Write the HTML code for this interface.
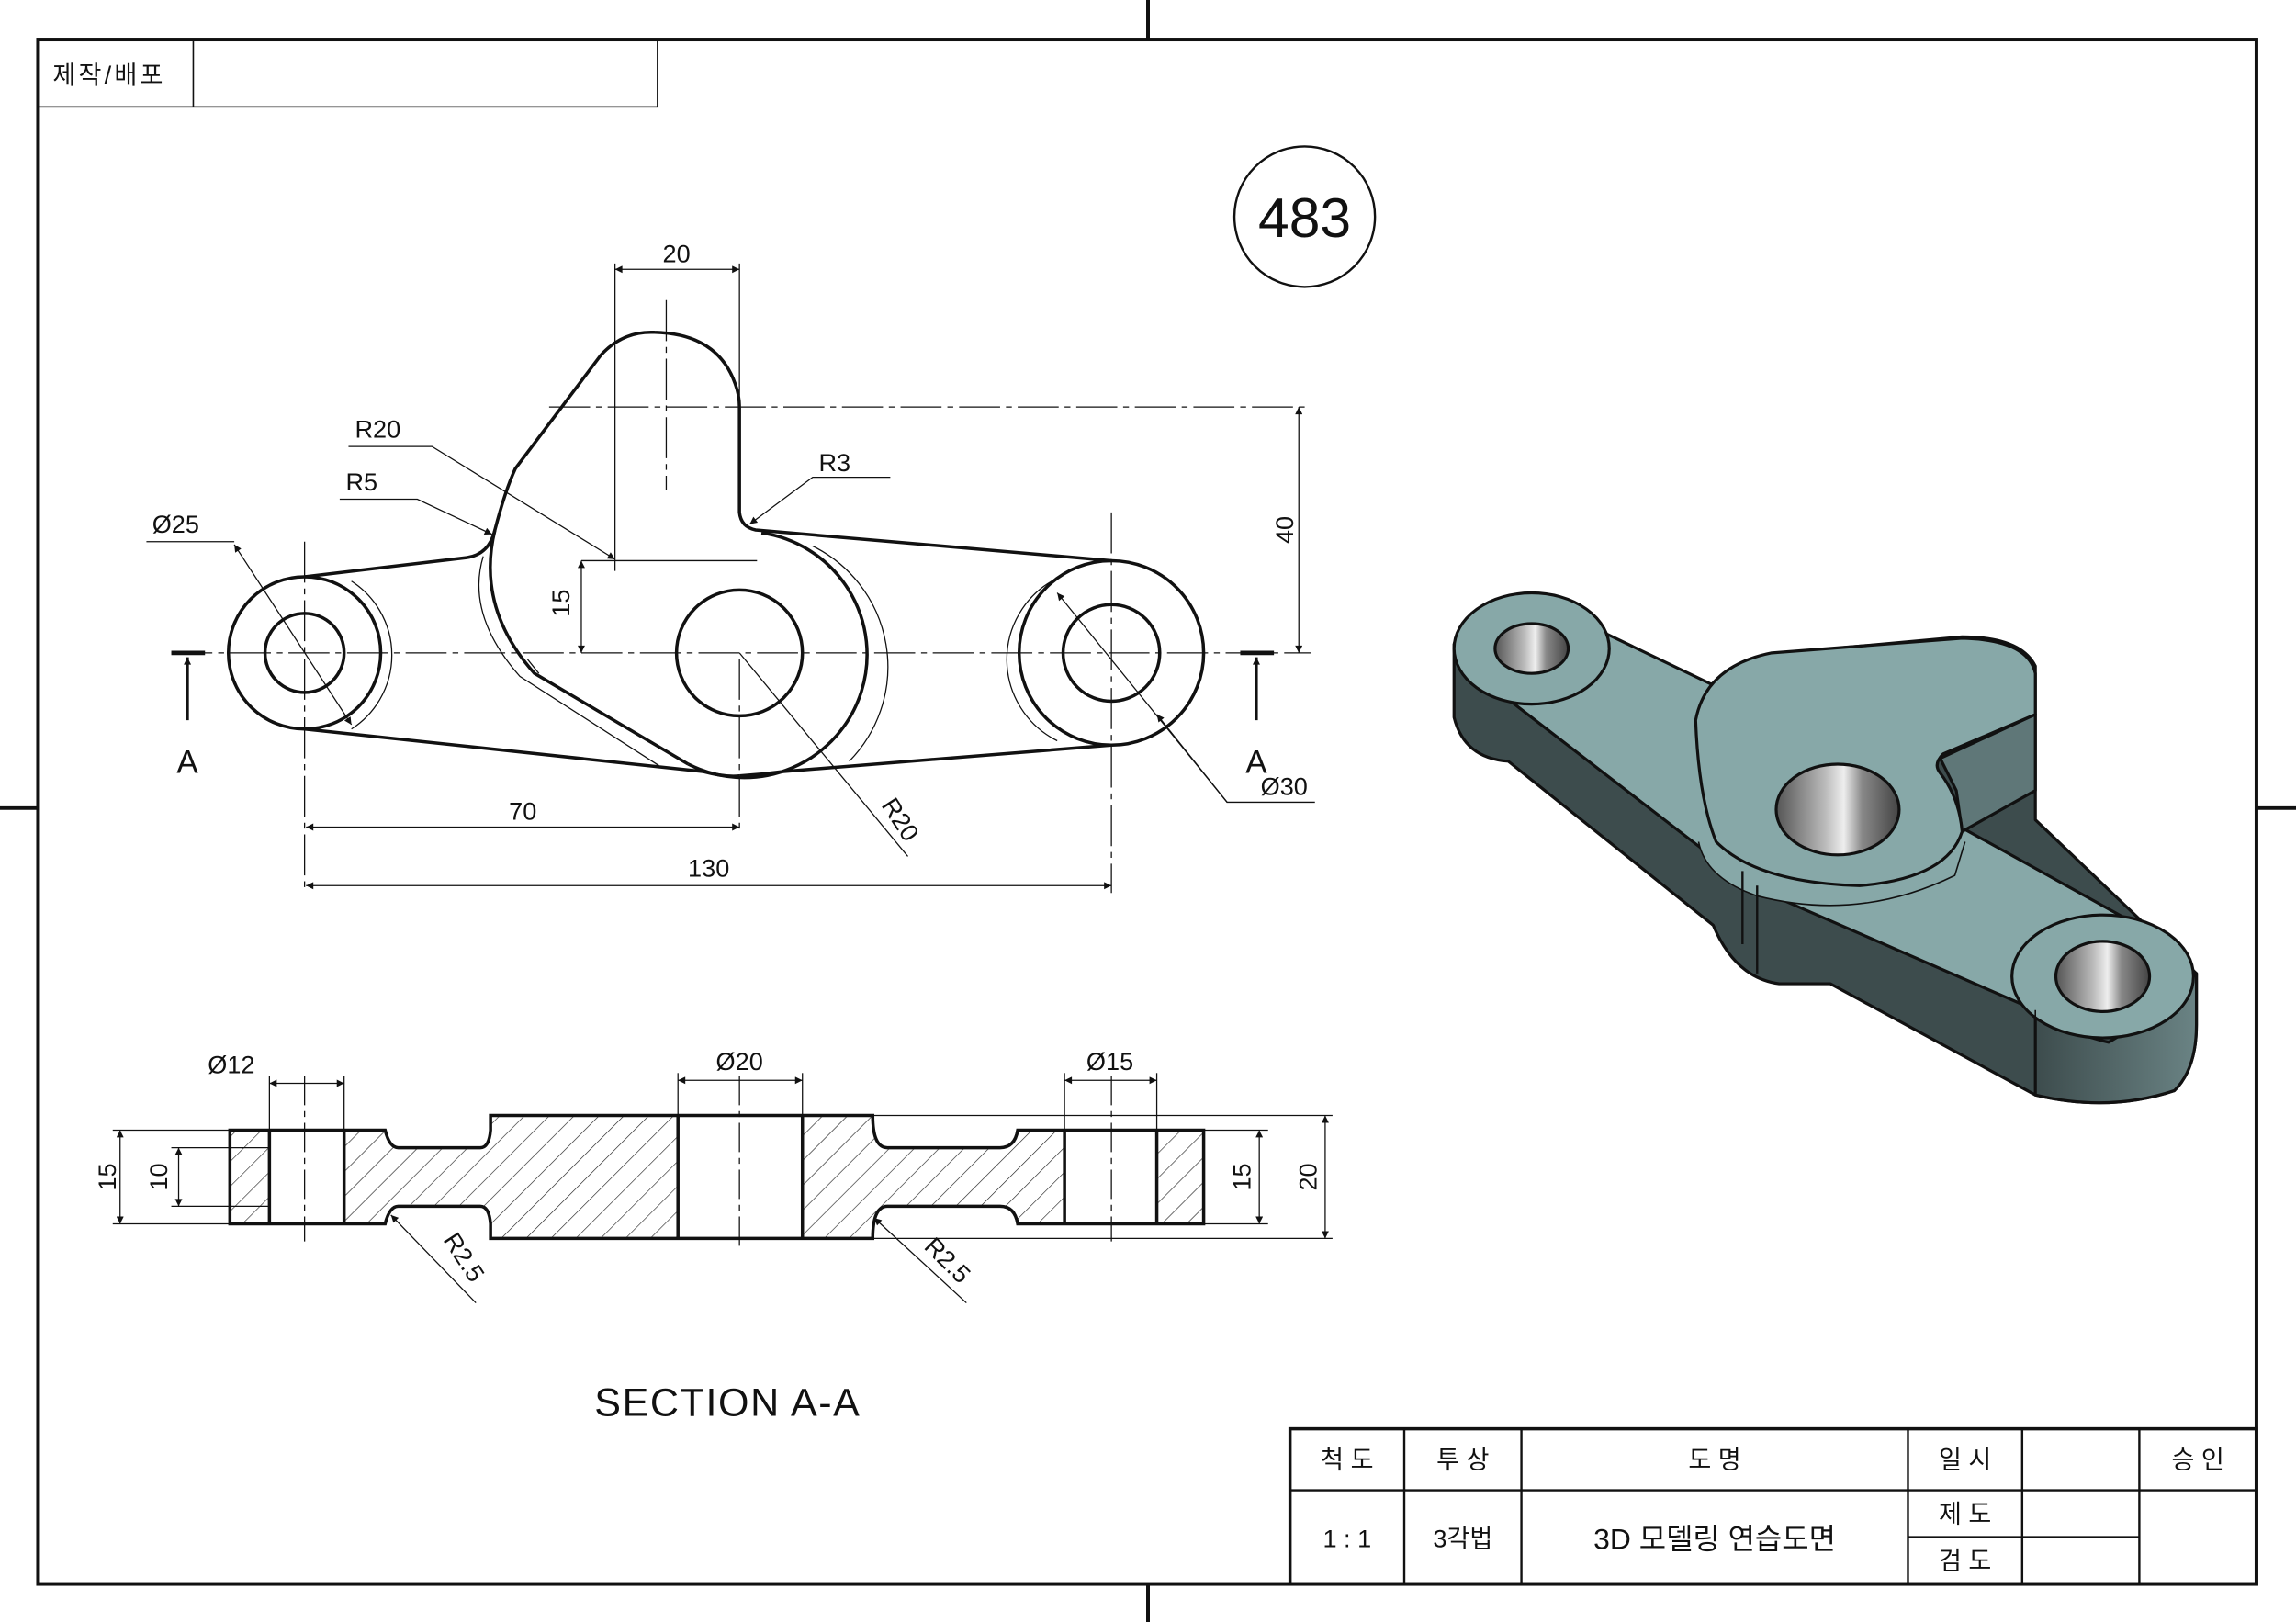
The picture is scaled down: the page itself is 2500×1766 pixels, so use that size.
<!DOCTYPE html>
<html><head><meta charset="utf-8"><style>
html,body{margin:0;padding:0;background:#fff}
svg{display:block}
text{font-family:"Liberation Sans","Noto Sans CJK KR",sans-serif;fill:#111}
</style></head><body>
<svg width="2500" height="1766" viewBox="0 0 1568 1108" preserveAspectRatio="none" xmlns="http://www.w3.org/2000/svg">
<defs>
<pattern id="h" width="12" height="12" patternUnits="userSpaceOnUse" patternTransform="rotate(45)"><line x1="0" y1="0" x2="0" y2="12" stroke="#222" stroke-width="0.8"/></pattern>
<marker id="ar" viewBox="0 0 10 10" refX="10" refY="5" markerWidth="9" markerHeight="5" orient="auto-start-reverse" markerUnits="userSpaceOnUse"><path d="M0,0 L10,5 L0,10z" fill="#111"/></marker>
<linearGradient id="hole" x1="0" x2="1"><stop offset="0" stop-color="#555"/><stop offset=".4" stop-color="#bbb"/><stop offset=".55" stop-color="#eee"/><stop offset=".7" stop-color="#888"/><stop offset="1" stop-color="#444"/></linearGradient>
<linearGradient id="bside" x1="0" x2="1"><stop offset="0" stop-color="#3d4c4d"/><stop offset="1" stop-color="#6a8384"/></linearGradient>
</defs>
<g fill="none" stroke="#111">
<rect x="26" y="27" width="1515" height="1055" stroke-width="2.5"/>
<line x1="784" y1="0" x2="784" y2="27" stroke-width="2.5"/>
<line x1="784" y1="1082" x2="784" y2="1108" stroke-width="2.5"/>
<line x1="0" y1="552" x2="26" y2="552" stroke-width="2.5"/>
<line x1="1541" y1="552" x2="1568" y2="552" stroke-width="2.5"/>
<rect x="26" y="27" width="423" height="46" stroke-width="1"/>
<line x1="132" y1="27" x2="132" y2="73" stroke-width="1"/>
<circle cx="891" cy="148" r="48" stroke-width="1.5"/>

<g stroke-width="2.2">
<circle cx="208" cy="446" r="52"/><circle cx="208" cy="446" r="27"/>
<circle cx="505" cy="446" r="43"/>
<circle cx="759" cy="446" r="63"/><circle cx="759" cy="446" r="33"/>
<path d="M208,394 L318,381 Q334,379 338,362 Q345,335 352,320 L410,243 Q425,226 447,227 Q490,228 502,262 Q505,270 505,278 L505,350 Q506,360 516,362 L759,383"/>
<path d="M520,364 A84,84 0 1 1 470,522"/>
<path d="M338,362 Q325,415 365,460 L470,522"/>
<path d="M208,498 L480,527 Q495,531 505,530"/>
<path d="M759,509 L535,527 Q520,529 505,530"/>
</g>
<g stroke-width="0.8">
<path d="M240,397 A60,60 0 0 1 240,498"/>
<path d="M720,396 A62,62 0 0 0 722,506"/>
<path d="M330,380 Q318,420 355,462 L450,523"/>
<path d="M555,373 A92,92 0 0 1 580,520"/>
<line x1="360" y1="450" x2="368" y2="460"/>
</g>
<g stroke-width="0.8" stroke-dasharray="28,4,4,4">
<line x1="117" y1="446" x2="895" y2="446"/>
<line x1="375" y1="278" x2="893" y2="278"/>
<line x1="455" y1="205" x2="455" y2="335"/>
<line x1="208" y1="370" x2="208" y2="610"/>
<line x1="759" y1="350" x2="759" y2="610"/>
<line x1="505" y1="450" x2="505" y2="570"/>
</g>
<g stroke-width="0.8">
<line x1="420" y1="180" x2="420" y2="390"/><line x1="505" y1="180" x2="505" y2="270"/>
<line x1="420" y1="184" x2="505" y2="184" marker-start="url(#ar)" marker-end="url(#ar)"/>
<line x1="397" y1="383" x2="517" y2="383"/>
<line x1="397" y1="383" x2="397" y2="446" marker-start="url(#ar)" marker-end="url(#ar)"/>
<line x1="887" y1="278" x2="887" y2="446" marker-start="url(#ar)" marker-end="url(#ar)"/>
<line x1="209" y1="565" x2="505" y2="565" marker-start="url(#ar)" marker-end="url(#ar)"/>
<line x1="209" y1="605" x2="759" y2="605" marker-start="url(#ar)" marker-end="url(#ar)"/>
<path d="M100,370 L160,370"/><line x1="160" y1="372" x2="240" y2="495" marker-start="url(#ar)" marker-end="url(#ar)"/>
<path d="M238,305 L295,305 L420,382" marker-end="url(#ar)"/>
<path d="M232,341 L285,341 L336,365" marker-end="url(#ar)"/>
<path d="M608,326 L555,326 L512,358" marker-end="url(#ar)"/>
<path d="M505,446 L620,585"/>
<path d="M898,548 L838,548 L722,405" marker-end="url(#ar)"/>
<line x1="838" y1="548" x2="790" y2="488" marker-end="url(#ar)"/>
</g>
<g stroke-width="2">
<line x1="117" y1="446" x2="140" y2="446" stroke-width="3"/>
<line x1="128" y1="492" x2="128" y2="449" marker-end="url(#ar)"/>
<line x1="847" y1="446" x2="870" y2="446" stroke-width="3"/>
<line x1="858" y1="492" x2="858" y2="449" marker-end="url(#ar)"/>
</g>

<path d="M157,772 L263,772 Q266,784 272,784 L328,784 Q334,784 335,772 L335,762 L463,762 L463,846 L335,846 L335,836 Q334,824 328,824 L272,824 Q266,824 263,836 L157,836 Z" fill="url(#h)" stroke="none"/>
<path d="M548,762 L596,762 Q596,784 606,784 L683,784 Q693,784 695,772 L822,772 L822,836 L695,836 Q693,824 683,824 L606,824 Q596,824 596,846 L548,846 Z" fill="url(#h)" stroke="none"/>
<rect x="184" y="772" width="51" height="64" fill="#fff" stroke="none"/>
<rect x="727" y="772" width="63" height="64" fill="#fff" stroke="none"/>
<g stroke-width="2.2">
<path d="M157,772 L263,772 Q266,784 272,784 L328,784 Q334,784 335,772 L335,762 L596,762 Q596,784 606,784 L683,784 Q693,784 695,772 L822,772 L822,836 L695,836 Q693,824 683,824 L606,824 Q596,824 596,846 L335,846 L335,836 Q334,824 328,824 L272,824 Q266,824 263,836 L157,836 Z"/>
<line x1="184" y1="772" x2="184" y2="836"/><line x1="235" y1="772" x2="235" y2="836"/>
<line x1="463" y1="762" x2="463" y2="846"/><line x1="548" y1="762" x2="548" y2="846"/>
<line x1="727" y1="772" x2="727" y2="836"/><line x1="790" y1="772" x2="790" y2="836"/>
</g>
<g stroke-width="0.8" stroke-dasharray="20,4,4,4">
<line x1="208" y1="735" x2="208" y2="848"/><line x1="505" y1="735" x2="505" y2="855"/><line x1="759" y1="735" x2="759" y2="848"/>
</g>
<g stroke-width="0.8">
<line x1="184" y1="735" x2="184" y2="772"/><line x1="235" y1="735" x2="235" y2="772"/>
<line x1="184" y1="740" x2="235" y2="740" marker-start="url(#ar)" marker-end="url(#ar)"/>
<line x1="463" y1="733" x2="463" y2="762"/><line x1="548" y1="733" x2="548" y2="762"/>
<line x1="463" y1="738" x2="548" y2="738" marker-start="url(#ar)" marker-end="url(#ar)"/>
<line x1="727" y1="733" x2="727" y2="772"/><line x1="790" y1="733" x2="790" y2="772"/>
<line x1="727" y1="738" x2="790" y2="738" marker-start="url(#ar)" marker-end="url(#ar)"/>
<line x1="77" y1="772" x2="157" y2="772"/><line x1="77" y1="836" x2="157" y2="836"/>
<line x1="82" y1="772" x2="82" y2="836" marker-start="url(#ar)" marker-end="url(#ar)"/>
<line x1="117" y1="784" x2="184" y2="784"/><line x1="117" y1="824" x2="184" y2="824"/>
<line x1="122" y1="784" x2="122" y2="824" marker-start="url(#ar)" marker-end="url(#ar)"/>
<line x1="822" y1="772" x2="866" y2="772"/><line x1="822" y1="836" x2="866" y2="836"/>
<line x1="860" y1="772" x2="860" y2="836" marker-start="url(#ar)" marker-end="url(#ar)"/>
<line x1="596" y1="762" x2="910" y2="762"/><line x1="596" y1="846" x2="910" y2="846"/>
<line x1="905" y1="762" x2="905" y2="846" marker-start="url(#ar)" marker-end="url(#ar)"/>
<line x1="325" y1="890" x2="267" y2="830" marker-end="url(#ar)"/>
<line x1="660" y1="890" x2="597" y2="832" marker-end="url(#ar)"/>
</g>

<g stroke-width="1.5">
<rect x="881" y="976" width="660" height="106" stroke-width="2.2"/>
<line x1="881" y1="1018" x2="1541" y2="1018"/>
<line x1="1303" y1="1050" x2="1461" y2="1050"/>
<line x1="959" y1="976" x2="959" y2="1082"/>
<line x1="1039" y1="976" x2="1039" y2="1082"/>
<line x1="1303" y1="976" x2="1303" y2="1082"/>
<line x1="1381" y1="976" x2="1381" y2="1082"/>
<line x1="1461" y1="976" x2="1461" y2="1082"/>
</g>
</g>

<!-- 3D view -->
<g stroke="#111" stroke-width="2" stroke-linejoin="round">
<path d="M993,440 L993,490 Q1000,518 1030,520 L1170,632 Q1185,668 1215,672 L1250,672 L1390,748 Q1440,760 1485,745 Q1500,730 1500,700 L1500,665 L1390,560 L1390,455 Q1380,435 1340,435 L1230,445 Q1185,455 1165,470 L1095,440 Q1070,415 1040,415 Q1000,418 993,440 Z" fill="#3d4c4d"/>
<path d="M1390,690 L1390,748 Q1440,760 1485,745 Q1500,730 1500,700 L1500,665 Q1470,695 1440,712 Q1410,705 1390,690 Z" fill="url(#bside)"/>
<path d="M1020,470 L1095,432 L1170,468 L1330,560 L1460,632 L1470,700 L1390,690 L1195,605 Z" fill="#87a8a8"/>
<path d="M1325,518 L1390,488 L1390,540 L1340,568 L1336,540 Z" fill="#5f7778"/>
<path d="M1160,575 Q1165,600 1200,612 Q1270,630 1335,598 L1342,575" fill="#87a8a8" stroke-width="1"/>
<path d="M1158,492 Q1165,455 1210,446 L1340,436 Q1385,437 1390,460 L1390,488 L1327,515 Q1320,522 1325,528 Q1338,545 1340,568 Q1330,600 1270,605 Q1200,603 1172,575 Q1160,545 1158,492 Z" fill="#87a8a8"/>
<ellipse cx="1046" cy="443" rx="53" ry="38" fill="#87a8a8"/>
<ellipse cx="1046" cy="443" rx="25" ry="17" fill="url(#hole)"/>
<ellipse cx="1436" cy="667" rx="62" ry="42" fill="#87a8a8"/>
<ellipse cx="1436" cy="667" rx="32" ry="24" fill="url(#hole)"/>
<ellipse cx="1255" cy="553" rx="42" ry="31" fill="url(#hole)"/>
<line x1="1190" y1="595" x2="1190" y2="645" stroke-width="1.5"/>
<line x1="1200" y1="605" x2="1200" y2="665" stroke-width="1.5"/>
<line x1="1390" y1="690" x2="1390" y2="748" stroke-width="1"/>
</g>

<text x="36" y="57" font-size="17" letter-spacing="2">제작/배포</text>
<text x="891" y="162" font-size="38" text-anchor="middle">483</text>
<g font-size="17" text-anchor="middle">
<text x="462" y="179">20</text>
<text x="357" y="560">70</text>
<text x="484" y="599">130</text>
<text x="258" y="299">R20</text>
<text x="247" y="335">R5</text>
<text x="570" y="322">R3</text>
<text x="120" y="364">Ø25</text>
<text x="877" y="543">Ø30</text>
<text transform="translate(883,362) rotate(-90)">40</text>
<text transform="translate(389,412) rotate(-90)">15</text>
<text transform="translate(610,563) rotate(57)">R20</text>
<text x="128" y="528" font-size="22">A</text>
<text x="858" y="528" font-size="22">A</text>
<text x="158" y="733">Ø12</text>
<text x="505" y="731">Ø20</text>
<text x="758" y="731">Ø15</text>
<text transform="translate(79,804) rotate(-90)">15</text>
<text transform="translate(114,804) rotate(-90)">10</text>
<text transform="translate(854,804) rotate(-90)">15</text>
<text transform="translate(899,804) rotate(-90)">20</text>
<text transform="translate(312,862) rotate(57)">R2.5</text>
<text transform="translate(643,865) rotate(45)">R2.5</text>
</g>
<text x="497" y="967" font-size="27" text-anchor="middle" letter-spacing="1">SECTION A-A</text>
<g font-size="17" text-anchor="middle">
<text x="920" y="1003">척  도</text>
<text x="999" y="1003">투  상</text>
<text x="1171" y="1003">도          명</text>
<text x="1342" y="1003">일  시</text>
<text x="1501" y="1003">승  인</text>
<text x="920" y="1057">1 : 1</text>
<text x="999" y="1057">3각법</text>
<text x="1171" y="1058" font-size="20">3D 모델링 연습도면</text>
<text x="1342" y="1040">제  도</text>
<text x="1342" y="1072">검  도</text>
</g>
</svg>
</body></html>
